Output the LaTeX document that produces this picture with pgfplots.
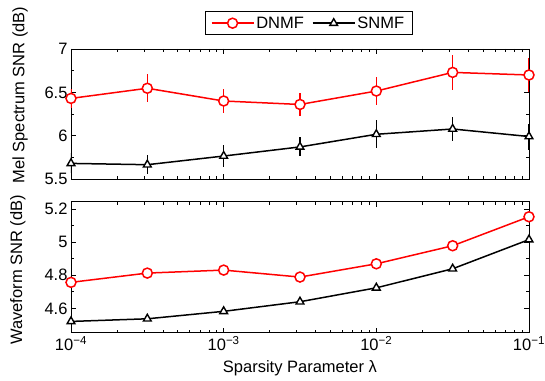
\documentclass[border=0pt]{standalone}
\usepackage{fontspec}
\setmainfont{Liberation Sans}
\usepackage{pgfplots}
\pgfplotsset{compat=1.18}
\begin{document}
\begin{tikzpicture}[font=\fontsize{16.5}{19}\selectfont]
\path[use as bounding box] (-71pt,-47.3pt) rectangle (474pt,332.7pt);
\pgfplotsset{
  every axis/.append style={
    scale only axis, width=458pt, height=131pt,
    xmode=log, xmin=1e-4, xmax=1e-1,
    /pgf/number format/assume math mode=true,
    major tick length=5pt, minor tick length=3pt,
    tick style={black, line width=0.6pt},
    axis line style={line width=0.8pt},
    minor y tick num=1,
    tick label style={font=\fontsize{16.5}{19}\selectfont},
    label style={font=\fontsize{16.5}{19}\selectfont},
    legend image code/.code={\draw[mark repeat=2,mark phase=2] plot coordinates {(0pt,0pt)(21pt,0pt)(42pt,0pt)};},
  },
  dnmf/.style={red, line width=1.5pt, mark=*, mark size=5pt, mark options={fill=white, draw=red, solid, line width=1.5pt},
    error bars/.cd, y dir=both, y explicit, error mark=none, error bar style={line width=1.5pt, red}},
  snmf/.style={black, line width=1.5pt, mark=triangle*, mark size=4.5pt, mark options={fill=white, draw=black, solid, line width=1.4pt},
    error bars/.cd, y dir=both, y explicit, error mark=none, error bar style={line width=1.5pt, black}},
}
\begin{axis}[
  at={(0pt,153.7pt)}, anchor=south west, height=130pt,
  ymin=5.5, ymax=7, ytick={5.5,6,6.5,7},
  xticklabels={},
  ylabel={Mel Spectrum SNR (dB)},
  ylabel style={at={(axis description cs:-0.111,0.646)}, anchor=center, rotate=0},
  legend columns=2,
  legend style={at={(axis description cs:0.5186,1)}, anchor=south, yshift=14pt,
    draw=black, line width=0.6pt, inner xsep=6pt, inner ysep=3pt,
    font=\fontsize{16.5}{19}\selectfont,
    nodes={inner sep=2pt},
    /tikz/every even column/.append style={column sep=6pt}},
]
\addplot+[dnmf] coordinates {
 (1e-4,6.43) +- (0,0.11)
 (3.1623e-4,6.547) +- (0,0.16)
 (1e-3,6.40) +- (0,0.14)
 (3.1623e-3,6.36) +- (0,0.13)
 (1e-2,6.515) +- (0,0.16)
 (3.1623e-2,6.73) +- (0,0.20)
 (1e-1,6.70) +- (0,0.20)
};
\addlegendentry{DNMF}
\addplot+[snmf] coordinates {
 (1e-4,5.68) +- (0,0.115)
 (3.1623e-4,5.665) +- (0,0.11)
 (1e-3,5.765) +- (0,0.13)
 (3.1623e-3,5.87) +- (0,0.11)
 (1e-2,6.016) +- (0,0.16)
 (3.1623e-2,6.077) +- (0,0.14)
 (1e-1,5.99) +- (0,0.15)
};
\addlegendentry{SNMF}
\end{axis}
\begin{axis}[
  at={(0pt,0pt)}, anchor=south west,
  ymin=4.453, ymax=5.244, ytick={4.6,4.8,5,5.2},
  xtick={1e-4,1e-3,1e-2,1e-1},
  xticklabels={10\textsuperscript{−4},10\textsuperscript{−3},10\textsuperscript{−2},10\textsuperscript{−1}},
  xlabel={Sparsity Parameter λ},
  xlabel style={at={(axis description cs:0.5,0)}, anchor=north, yshift=-24pt},
  ylabel={Waveform SNR (dB)},
  ylabel style={at={(axis description cs:-0.116,0.48)}, anchor=center, rotate=0},
]
\addplot+[dnmf] coordinates {
 (1e-4,4.757) +- (0,0.012)
 (3.1623e-4,4.813) +- (0,0.010)
 (1e-3,4.831) +- (0,0.015)
 (3.1623e-3,4.789) +- (0,0.008)
 (1e-2,4.869) +- (0,0.010)
 (3.1623e-2,4.978) +- (0,0.020)
 (1e-1,5.153) +- (0,0.012)
};
\addplot+[snmf] coordinates {
 (1e-4,4.521) +- (0,0.005)
 (3.1623e-4,4.537) +- (0,0.005)
 (1e-3,4.582) +- (0,0.005)
 (3.1623e-3,4.640) +- (0,0.005)
 (1e-2,4.724) +- (0,0.005)
 (3.1623e-2,4.839) +- (0,0.005)
 (1e-1,5.015) +- (0,0.006)
};
\end{axis}
\end{tikzpicture}
\end{document}
